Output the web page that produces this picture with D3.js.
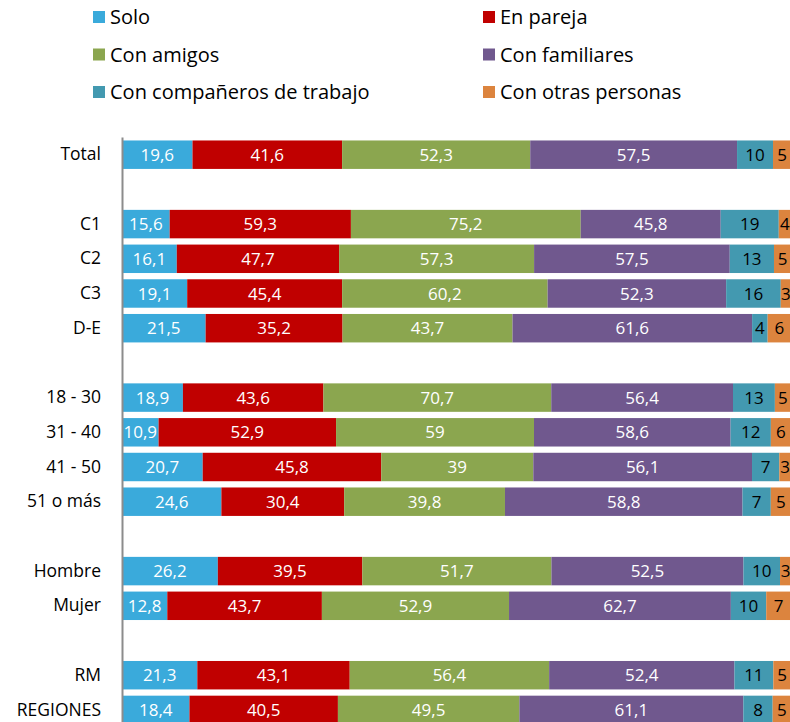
<!DOCTYPE html>
<html>
<head>
<meta charset="utf-8">
<script src="https://cdn.jsdelivr.net/npm/d3@7"></script>
<style>
  body { margin: 0; background: #fff; }
  text { font-family: "Open Sans", "Noto Sans", sans-serif; }
</style>
</head>
<body>
<div id="chart-area"></div>
<script>
// categories ("" = empty spacer row)
var categories = ["Total", "", "C1", "C2", "C3", "D-E", "", "18 - 30", "31 - 40", "41 - 50", "51 o más", "", "Hombre", "Mujer", "", "RM", "REGIONES"];

var seriesNames = ["Solo", "En pareja", "Con amigos", "Con familiares", "Con compañeros de trabajo", "Con otras personas"];
var seriesColors = ["#3aaadb", "#c00000", "#8ba64f", "#70588e", "#4399b0", "#dc843e"];
var labelColors = ["#fff", "#fff", "#fff", "#fff", "#000", "#000"];

var solo       = [19.6, null, 15.6, 16.1, 19.1, 21.5, null, 18.9, 10.9, 20.7, 24.6, null, 26.2, 12.8, null, 21.3, 18.4];
var pareja     = [41.6, null, 59.3, 47.7, 45.4, 35.2, null, 43.6, 52.9, 45.8, 30.4, null, 39.5, 43.7, null, 43.1, 40.5];
var amigos     = [52.3, null, 75.2, 57.3, 60.2, 43.7, null, 70.7, 59, 39, 39.8, null, 51.7, 52.9, null, 56.4, 49.5];
var familiares = [57.5, null, 45.8, 57.5, 52.3, 61.6, null, 56.4, 58.6, 56.1, 58.8, null, 52.5, 62.7, null, 52.4, 61.1];
var trabajo    = [10, null, 19, 13, 16, 4, null, 13, 12, 7, 7, null, 10, 10, null, 11, 8];
var otras      = [5, null, 4, 5, 3, 6, null, 5, 6, 3, 5, null, 3, 7, null, 5, 5];

var series = [solo, pareja, amigos, familiares, trabajo, otras];

var width = 790, height = 722;

var svg = d3.select("#chart-area")
  .append("svg")
  .attr("width", width)
  .attr("height", height);

// build rows: each segment normalised to the row total
var rows = categories.map(function(c, i) {
  var vals = series.map(function(s) { return s[i]; });
  var total = d3.sum(vals);
  var x0 = 0;
  var segs = [];
  if (total > 0) {
    vals.forEach(function(v, k) {
      segs.push({ k: k, v: v, x0: x0 / total, x1: (x0 + v) / total });
      x0 += v;
    });
  }
  return { i: i, name: c, segs: segs };
});

// scales
var x = d3.scaleLinear()
  .domain([0, 1])
  .range([122, 791]);

var y = d3.scaleBand()
  .domain(d3.range(categories.length))
  .range([137, 727.6])
  .paddingInner(0.18)
  .paddingOuter(0.1);

// bars
var row = svg.append("g")
  .selectAll("g")
  .data(rows)
  .enter()
  .append("g")
  .attr("transform", function(d) { return "translate(0," + y(d.i) + ")"; });

row.selectAll("rect")
  .data(function(d) { return d.segs; })
  .enter()
  .append("rect")
  .attr("x", function(d) { return x(d.x0); })
  .attr("width", function(d) { return x(d.x1) - x(d.x0); })
  .attr("height", y.bandwidth())
  .style("fill", function(d) { return seriesColors[d.k]; });

row.selectAll("text")
  .data(function(d) { return d.segs; })
  .enter()
  .append("text")
  .attr("x", function(d) { return (x(d.x0) + x(d.x1)) / 2; })
  .attr("y", y.bandwidth() / 2)
  .attr("dy", "0.36em")
  .attr("text-anchor", "middle")
  .attr("font-size", "17px")
  .style("fill", function(d) { return labelColors[d.k]; })
  .text(function(d) { return String(d.v).replace(".", ","); });

// y axis
var yAxis = svg.append("g")
  .attr("transform", "translate(122,0)")
  .call(d3.axisLeft(y)
    .tickSize(0)
    .tickPadding(21)
    .tickFormat(function(i) { return categories[i]; }));

yAxis.select(".domain")
  .attr("stroke", "#8c8c8c")
  .attr("stroke-width", 2);

yAxis.selectAll("text")
  .attr("font-size", "17.5px")
  .attr("font-family", "'Open Sans', 'Noto Sans', sans-serif")
  .style("fill", "#000");

// legend
var legend = svg.append("g")
  .selectAll("g")
  .data(seriesNames)
  .enter()
  .append("g")
  .attr("transform", function(d, i) {
    return "translate(" + (i % 2 === 0 ? 93 : 483) + "," + (11 + Math.floor(i / 2) * 37.5) + ")";
  });

legend.append("rect")
  .attr("width", 12)
  .attr("height", 12)
  .style("fill", function(d, i) { return seriesColors[i]; });

legend.append("text")
  .attr("x", 17)
  .attr("y", 6)
  .attr("dy", "0.36em")
  .attr("font-size", "20px")
  .style("fill", "#000")
  .text(function(d) { return d; });
</script>
</body>
</html>
